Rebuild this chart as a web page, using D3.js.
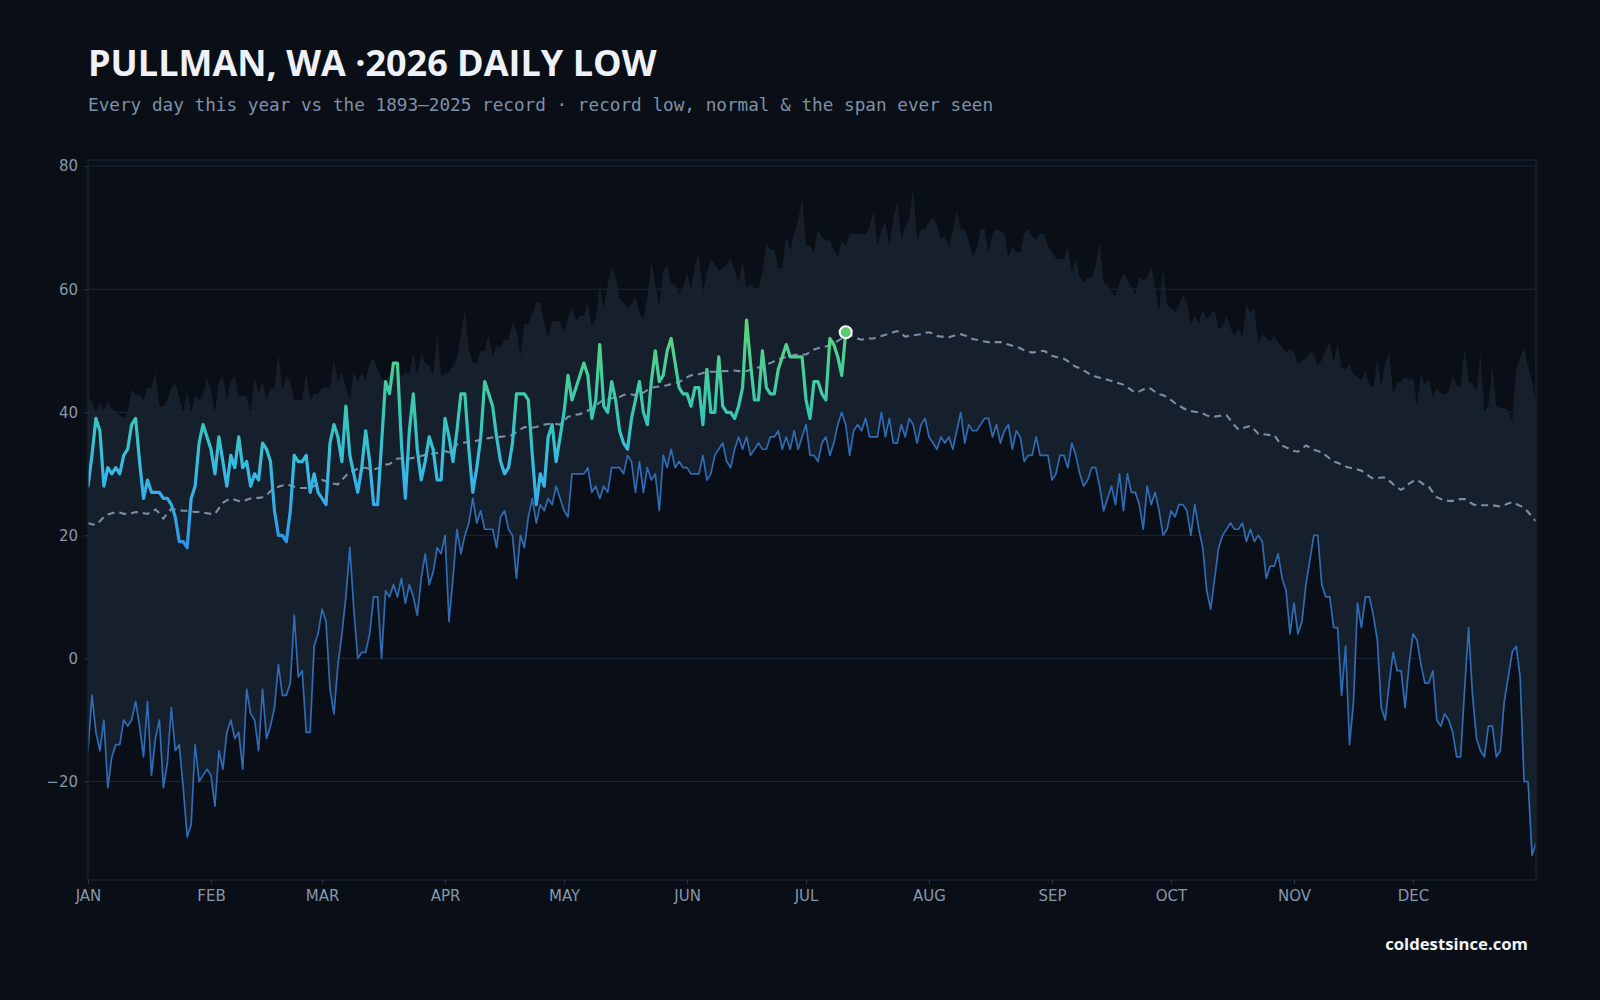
<!DOCTYPE html>
<html>
<head>
<meta charset="utf-8">
<script src="https://cdn.jsdelivr.net/npm/d3@7"></script>
<style>
  html, body { margin: 0; padding: 0; background: #0a0e16; }
  svg { display: block; }
</style>
</head>
<body>
<div class="chart"></div>
<script>
// daily values, Jan 1 .. Jan 1 (366 points), degrees F
const recordHigh = [
  42.5, 41.7, 40, 41.7, 40.2, 41.7, 40.6, 40, 39.5, 39,
  40, 43.7, 42.8, 42.8, 42, 44, 44, 46.6, 41, 41,
  42, 44, 44.7, 42.5, 40, 43.6, 40, 42.8, 42, 42.8,
  45.5, 43.6, 40, 45, 45.8, 42, 45, 45.8, 42.5, 42.8,
  42.5, 40, 45.5, 43.2, 45, 42, 44, 43.8, 49.6, 43.6,
  45.8, 45, 42, 42, 42, 46.6, 42, 43, 43, 44,
  44, 44, 48.4, 45, 46.6, 44, 42, 46.6, 45, 46.4,
  45, 48, 48.8, 47, 45.5, 45, 46.2, 47, 47.3, 45.8,
  46.6, 46.2, 49.6, 46, 49.6, 48, 47.7, 46, 52.6, 46,
  46.3, 46.5, 47.5, 48.8, 52.6, 56.7, 50.3, 48, 48, 50,
  50, 52.7, 49.2, 50.7, 50.7, 51.8, 51.8, 54.7, 53.3, 49.2,
  54.4, 54.4, 56, 57.8, 57.8, 54.4, 52.2, 54.8, 54.8, 54.8,
  53, 55.6, 56.9, 55, 55.7, 55.7, 57.8, 54, 55.2, 60.8,
  57, 60.8, 63.6, 62, 58.5, 57.8, 57, 57.6, 58.7, 56,
  55.2, 58.5, 64.7, 60.8, 57.2, 63, 63.8, 60.9, 60.8, 59.3,
  60.1, 62.8, 60.1, 64.1, 65.6, 59.3, 62.7, 64.7, 64.1, 63,
  63.5, 64.1, 64.9, 63, 61, 64.7, 60.1, 60.9, 60.1, 60.1,
  62.7, 67.5, 66.4, 66.4, 63.4, 63.4, 68.7, 66.4, 69, 71.3,
  74.6, 67.1, 67.1, 66, 69.8, 68.5, 67.9, 67.9, 66.4, 65.3,
  67.9, 67.1, 69, 69, 69, 69, 69, 70.1, 72.7, 67.1,
  69.8, 70.9, 67.1, 71.3, 74.2, 68.2, 70.1, 71.3, 76.5, 68.2,
  69.8, 69.8, 70.9, 71.6, 70.5, 68.2, 68.6, 67.1, 69.4, 72.7,
  69.8, 69.8, 67.9, 65.3, 66.4, 69.8, 69.8, 66, 69, 69.8,
  69.4, 69, 65, 67, 66, 66, 69, 69.8, 68.5, 68.1,
  69, 69, 67, 66, 65, 64.9, 64.9, 66.8, 62.8, 64.9,
  62, 61, 61.9, 61.9, 63.8, 67.7, 61, 60.9, 59.5, 58.9,
  61, 62.7, 61.5, 60.5, 59.2, 62, 61.5, 61.9, 63.8, 60.1,
  56.5, 63.4, 57.5, 57, 56.3, 57.4, 59, 58, 54.4, 55.7,
  54.5, 56.7, 55.2, 55.9, 56.7, 53.5, 54, 55.6, 53.7, 52.5,
  53.5, 52.2, 57.6, 56.3, 56.9, 51, 52.7, 52.2, 51.5, 52.5,
  51.3, 50.6, 49.8, 50.3, 49.8, 47.8, 48.3, 48.8, 49.8, 49.5,
  47.6, 48.5, 50, 51.5, 48.1, 51.2, 47.2, 47, 47.7, 46.2,
  45.8, 45.2, 46.5, 44.5, 44, 48.5, 44.3, 48.1, 49.7, 43,
  44.7, 45, 45.8, 45.2, 45.6, 41.2, 46.4, 44.5, 45.5, 42.5,
  43.8, 43, 42.8, 43.5, 46, 44.5, 44, 50.5, 45, 44.7,
  43.5, 49.5, 40, 41.3, 47.5, 41, 40.7, 40.7, 40.3, 38.5,
  47, 48.8, 50.5, 47.5, 45, 41.5
]

const recordLow = [
  -15, -6, -12, -15, -10, -21, -16, -14, -14, -10,
  -11, -10, -7, -11, -16, -7, -19, -13, -10, -21,
  -17, -8, -15, -14, -21, -29, -27, -14, -20, -19,
  -18, -19, -24, -15, -18, -12, -10, -13, -12, -18,
  -5, -9, -10, -15, -5, -13, -11, -8, -1, -6,
  -6, -4, 7, -3, -2, -12, -12, 2, 4, 8,
  6, -5, -9, -1, 4, 10, 18, 8, 0, 1,
  1, 4, 10, 10, 0, 11, 10, 12, 10, 13,
  9, 12, 10, 7, 13, 17, 12, 14, 18, 17,
  20, 6, 13, 21, 17, 20, 22, 26, 22, 24,
  21, 21, 21, 18, 23, 24, 21, 20, 13, 20,
  18, 23, 26, 22, 25, 24, 26, 25, 28, 26,
  24, 23, 30, 30, 30, 30, 31, 27, 28, 26,
  28, 27, 31, 31, 31, 30, 33, 32, 27, 32,
  27, 31, 29, 30, 24, 33, 31, 34, 31, 32,
  31, 31, 30, 30, 30, 33, 29, 30, 33, 34,
  35, 32, 31, 34, 36, 34, 36, 33, 34, 35,
  34, 34, 36, 36, 37, 34, 36, 34, 37, 34,
  36, 38, 33, 33, 32, 35, 36, 33, 35, 38,
  40, 38, 33, 37, 38, 37, 39, 36, 36, 36,
  40, 36, 39, 35, 35, 38, 36, 39, 38, 35,
  38, 39, 36, 35, 34, 36, 35, 36, 34, 37,
  40, 35, 38, 37, 37, 38, 39, 39, 36, 38,
  35, 37, 38, 34, 37, 36, 32, 33, 33, 36,
  33, 33, 33, 29, 30, 33, 33, 31, 35, 33,
  30, 28, 29, 31, 31, 28, 24, 26, 28, 25,
  30, 24, 30, 27, 27, 25, 21, 28, 25, 27,
  24, 20, 21, 24, 23, 25, 25, 24, 20, 25,
  21, 18, 11, 8, 13, 18, 20, 21, 22, 21,
  21, 22, 19, 21, 19, 20, 19, 13, 15, 15,
  17, 13, 11, 4, 9, 4, 6, 12, 16, 20,
  20, 12, 10, 10, 5, 5, -6, 2, -14, -7,
  9, 5, 10, 10, 7, 3, -8, -10, -4, 1,
  -2, -2, -8, -1, 4, 3, -1, -4, -4, -2,
  -10, -11, -9, -10, -12, -16, -16, -5, 5, -6,
  -13, -15, -16, -11, -11, -16, -15, -7, -3, 1,
  2, -3, -20, -20, -32, -30
]

const normal = [
  22.0, 21.8, 21.7, 22.3, 23.0, 23.4, 23.6, 23.8, 23.7, 23.5,
  23.5, 23.6, 23.8, 23.7, 23.6, 23.5, 23.8, 24.2, 23.6, 22.7,
  23.6, 24.3, 24.2, 24.1, 24.0, 24.0, 23.9, 23.8, 23.8, 23.7,
  23.6, 23.5, 23.5, 24.4, 25.3, 25.7, 26.0, 25.8, 25.6, 25.5,
  25.8, 26.0, 26.1, 26.1, 26.2, 26.5, 27.2, 27.6, 27.9, 28.1,
  28.3, 28.1, 27.9, 27.7, 27.7, 27.7, 27.7, 28.0, 28.5, 29.0,
  28.8, 28.5, 28.4, 28.3, 29.0, 29.7, 30.3, 30.5, 30.8, 31.0,
  31.0, 30.8, 30.7, 30.9, 31.2, 31.5, 31.6, 32.0, 32.5, 32.5,
  32.5, 32.5, 32.6, 32.7, 32.9, 33.1, 33.2, 33.3, 33.4, 33.6,
  33.7, 33.5, 34.0, 34.8, 35.0, 35.1, 35.2, 35.2, 35.4, 35.5,
  35.7, 35.8, 35.9, 36.0, 36.0, 36.1, 36.2, 36.3, 36.8, 37.2,
  37.6, 37.6, 37.5, 37.6, 37.8, 38.0, 38.1, 38.2, 38.1, 38.0,
  38.6, 39.3, 39.4, 39.6, 39.7, 40.0, 40.3, 40.6, 41.1, 41.6,
  42.0, 42.1, 42.3, 42.4, 42.5, 42.8, 43.0, 42.9, 42.8, 42.8,
  43.2, 43.6, 44.0, 44.1, 44.2, 44.3, 44.4, 44.6, 44.8, 44.9,
  45.3, 45.7, 46.0, 46.1, 46.2, 46.4, 46.5, 46.6, 46.6, 46.6,
  46.7, 46.7, 46.8, 46.8, 46.7, 46.7, 46.7, 46.9, 47.1, 47.3,
  47.5, 47.8, 48.0, 48.3, 48.6, 48.8, 49.0, 49.1, 49.3, 49.4,
  49.4, 49.4, 49.8, 50.2, 50.4, 50.6, 50.7, 50.9, 51.2, 51.6,
  52.0, 52.4, 52.6, 52.3, 52.0, 51.8, 51.9, 52.0, 52.0, 52.2,
  52.4, 52.6, 52.8, 53.0, 53.2, 52.8, 52.3, 52.4, 52.5, 52.6,
  52.7, 52.9, 53.0, 52.8, 52.4, 52.3, 52.3, 52.2, 52.4, 52.6,
  52.7, 52.5, 52.2, 51.9, 51.8, 51.6, 51.5, 51.4, 51.4, 51.4,
  51.4, 51.2, 51.0, 50.8, 50.7, 50.4, 50.1, 49.9, 49.7, 49.8,
  49.9, 50.0, 49.6, 49.2, 49.0, 48.9, 48.7, 48.3, 47.8, 47.4,
  47.2, 46.8, 46.4, 46.0, 45.8, 45.6, 45.5, 45.3, 45.1, 44.9,
  44.7, 44.5, 44.1, 43.6, 43.2, 43.4, 43.7, 44.0, 43.8, 43.3,
  42.9, 42.8, 42.4, 42.0, 41.5, 41.1, 40.7, 40.4, 40.2, 40.1,
  40.0, 39.8, 39.5, 39.3, 39.3, 39.4, 39.5, 39.5, 38.7, 37.9,
  37.2, 37.4, 37.6, 37.8, 37.2, 36.5, 36.4, 36.4, 36.3, 36.3,
  35.4, 34.6, 34.3, 34.0, 33.7, 33.6, 34.1, 34.6, 34.3, 33.9,
  33.7, 33.5, 33.0, 32.5, 32.0, 31.8, 31.5, 31.2, 31.0, 30.9,
  30.7, 30.5, 30.1, 29.6, 29.2, 29.3, 29.4, 29.4, 28.9, 28.3,
  27.8, 27.4, 27.8, 28.4, 28.8, 29.0, 28.6, 28.1, 27.9, 27.0,
  26.2, 25.9, 25.7, 25.6, 25.6, 25.8, 25.9, 25.9, 25.5, 25.1,
  24.9, 24.9, 24.9, 24.9, 24.9, 24.8, 24.7, 24.9, 25.2, 25.4,
  25.1, 24.8, 24.5, 23.8, 23.0, 22.3
]

// 2026 so far, Jan 1 .. Jul 11
const thisYear = [
  28, 33, 39, 37, 28, 31, 30, 31, 30, 33,
  34, 38, 39, 32, 26, 29, 27, 27, 27, 26,
  26, 25, 23, 19, 19, 18, 26, 28, 35, 38,
  36, 34, 30, 36, 32, 28, 33, 31, 36, 31,
  32, 28, 30, 29, 35, 34, 32, 24, 20, 20,
  19, 24, 33, 32, 32, 33, 27, 30, 27, 26,
  25, 35, 38, 36, 32, 41, 33, 30, 27, 31,
  37, 32, 25, 25, 35, 45, 43, 48, 48, 35,
  26, 37, 43, 34, 29, 32, 36, 34, 29, 29,
  39, 36, 32, 37, 43, 43, 34, 27, 31, 36,
  45, 43, 41, 36, 32, 30, 31, 35, 43, 43,
  43, 42, 33, 25, 30, 28, 36, 38, 32, 36,
  40, 46, 42, 44, 46, 48, 46, 39, 42, 51,
  41, 40, 45, 42, 37, 35, 34, 39, 42, 45,
  40, 38, 45, 50, 45, 46, 50, 52, 48, 44,
  43, 43, 41, 44, 44, 38, 47, 40, 40, 49,
  41, 40, 40, 39, 41, 44, 55, 48, 42, 42,
  50, 44, 43, 43, 47, 49, 51, 49, 49, 49,
  49, 42, 39, 45, 45, 43, 42, 52, 51, 49,
  46, 53
]

const monthLabels = ["JAN", "FEB", "MAR", "APR", "MAY", "JUN", "JUL", "AUG", "SEP", "OCT", "NOV", "DEC"]
const yTicks = [-20, 0, 20, 40, 60, 80]

const width = 1600
const height = 1000
const margin = { top: 160, right: 64, bottom: 120, left: 88 }

const start = new Date(2026, 0, 1)
const end = new Date(2027, 0, 1)

const clim = recordHigh.map(function (hi, i) {
    return { date: d3.timeDay.offset(start, i), hi: hi, lo: recordLow[i], norm: normal[i] }
})
const yearData = thisYear.map(function (v, i) {
    return { date: d3.timeDay.offset(start, i), v: v }
})

const svg = d3.select(".chart")
    .append("svg")
    .attr("width", width)
    .attr("height", height)

svg.append("rect")
    .attr("width", width)
    .attr("height", height)
    .attr("fill", "#0a0e16")

const x = d3.scaleTime()
    .domain([start, end])
    .range([margin.left, width - margin.right])

const y = d3.scaleLinear()
    .domain([-36, 81])
    .range([height - margin.bottom, margin.top])

// gradient for this year's line, by temperature
const defs = svg.append("defs")
const grad = defs.append("linearGradient")
    .attr("id", "tempGrad")
    .attr("gradientUnits", "userSpaceOnUse")
    .attr("x1", 0).attr("x2", 0)
    .attr("y1", y(16)).attr("y2", y(56))
grad.selectAll("stop")
    .data([
        { o: "0%", c: "#2d8fe3" },
        { o: "35%", c: "#38b9e6" },
        { o: "60%", c: "#36c8b4" },
        { o: "100%", c: "#5fd674" }
    ])
    .enter().append("stop")
    .attr("offset", function (d) { return d.o })
    .attr("stop-color", function (d) { return d.c })

defs.append("clipPath").attr("id", "plotClip")
    .append("rect")
    .attr("x", margin.left).attr("y", margin.top)
    .attr("width", width - margin.left - margin.right)
    .attr("height", height - margin.top - margin.bottom)

// grid
svg.append("g")
    .selectAll("line")
    .data(yTicks)
    .enter().append("line")
    .attr("x1", margin.left)
    .attr("x2", width - margin.right)
    .attr("y1", function (d) { return y(d) })
    .attr("y2", function (d) { return y(d) })
    .style("stroke", "#19222f")
    .style("stroke-width", 1)

const plot = svg.append("g").attr("clip-path", "url(#plotClip)")

// span ever seen
plot.append("path")
    .datum(clim)
    .attr("d", d3.area()
        .x(function (d) { return x(d.date) })
        .y0(function (d) { return y(d.lo) })
        .y1(function (d) { return y(d.hi) }))
    .style("fill", "#161f2c")

// grid lines again, faint, over the band
plot.append("g")
    .selectAll("line")
    .data(yTicks)
    .enter().append("line")
    .attr("x1", margin.left)
    .attr("x2", width - margin.right)
    .attr("y1", function (d) { return y(d) })
    .attr("y2", function (d) { return y(d) })
    .style("stroke", "#1d2838")
    .style("stroke-opacity", 0.6)
    .style("stroke-width", 1)

// record low
plot.append("path")
    .datum(clim)
    .attr("d", d3.line()
        .x(function (d) { return x(d.date) })
        .y(function (d) { return y(d.lo) }))
    .style("fill", "none")
    .style("stroke", "#2f6cb4")
    .style("stroke-width", 1.7)
    .style("stroke-linejoin", "round")

// normal
plot.append("path")
    .datum(clim)
    .attr("d", d3.line()
        .x(function (d) { return x(d.date) })
        .y(function (d) { return y(d.norm) }))
    .style("fill", "none")
    .style("stroke", "#7a8ea6")
    .style("stroke-width", 2.1)
    .style("stroke-dasharray", "7 5")

// 2026
plot.append("path")
    .datum(yearData)
    .attr("d", d3.line()
        .x(function (d) { return x(d.date) })
        .y(function (d) { return y(d.v) }))
    .style("fill", "none")
    .style("stroke", "url(#tempGrad)")
    .style("stroke-width", 3.2)
    .style("stroke-linejoin", "round")
    .style("stroke-linecap", "round")

const last = yearData[yearData.length - 1]
svg.append("circle")
    .attr("cx", x(last.date))
    .attr("cy", y(last.v))
    .attr("r", 6)
    .style("fill", "#5ccb6b")
    .style("stroke", "#ffffff")
    .style("stroke-width", 2)

// frame
svg.append("rect")
    .attr("x", margin.left)
    .attr("y", margin.top)
    .attr("width", width - margin.left - margin.right)
    .attr("height", height - margin.top - margin.bottom)
    .style("fill", "none")
    .style("stroke", "#1c2736")
    .style("stroke-width", 1.2)

// axes
const months = d3.timeMonth.range(start, end)
const xAxis = d3.axisBottom(x)
    .tickValues(months)
    .tickSize(4)
    .tickPadding(6)
    .tickFormat(function (d, i) { return monthLabels[i] })

const yAxis = d3.axisLeft(y)
    .tickValues(yTicks)
    .tickSize(4)
    .tickPadding(6)

svg.append("g")
    .attr("class", "x axis")
    .attr("transform", `translate(0, ${height - margin.bottom})`)
    .call(xAxis)
    .call(g => g.select(".domain").remove())

svg.append("g")
    .attr("class", "y axis")
    .attr("transform", `translate(${margin.left}, 0)`)
    .call(yAxis)
    .call(g => g.select(".domain").remove())

svg.selectAll(".axis .tick line")
    .style("stroke", "#2a3748")
svg.selectAll(".axis .tick text")
    .style("fill", "#8696ab")
    .style("font-family", "'DejaVu Sans', sans-serif")
    .style("font-size", "15px")

// titles
svg.append("text")
    .attr("x", 88)
    .attr("y", 76)
    .style("font-family", "'Open Sans', sans-serif")
    .style("font-weight", "bold")
    .style("font-size", "36px")
    .style("fill", "#eef2f8")
    .text("PULLMAN, WA \u00b72026 DAILY LOW")

svg.append("text")
    .attr("x", 88)
    .attr("y", 111)
    .style("font-family", "'DejaVu Sans Mono', monospace")
    .style("font-size", "17.7px")
    .style("fill", "#7f91a8")
    .text("Every day this year vs the 1893\u20132025 record \u00b7 record low, normal & the span ever seen")

svg.append("text")
    .attr("x", 1528)
    .attr("y", 950)
    .attr("text-anchor", "end")
    .style("font-family", "'Open Sans', sans-serif")
    .style("font-weight", "bold")
    .style("font-size", "16.7px")
    .style("fill", "#f2f4f8")
    .text("coldestsince.com")
</script>
</body>
</html>
